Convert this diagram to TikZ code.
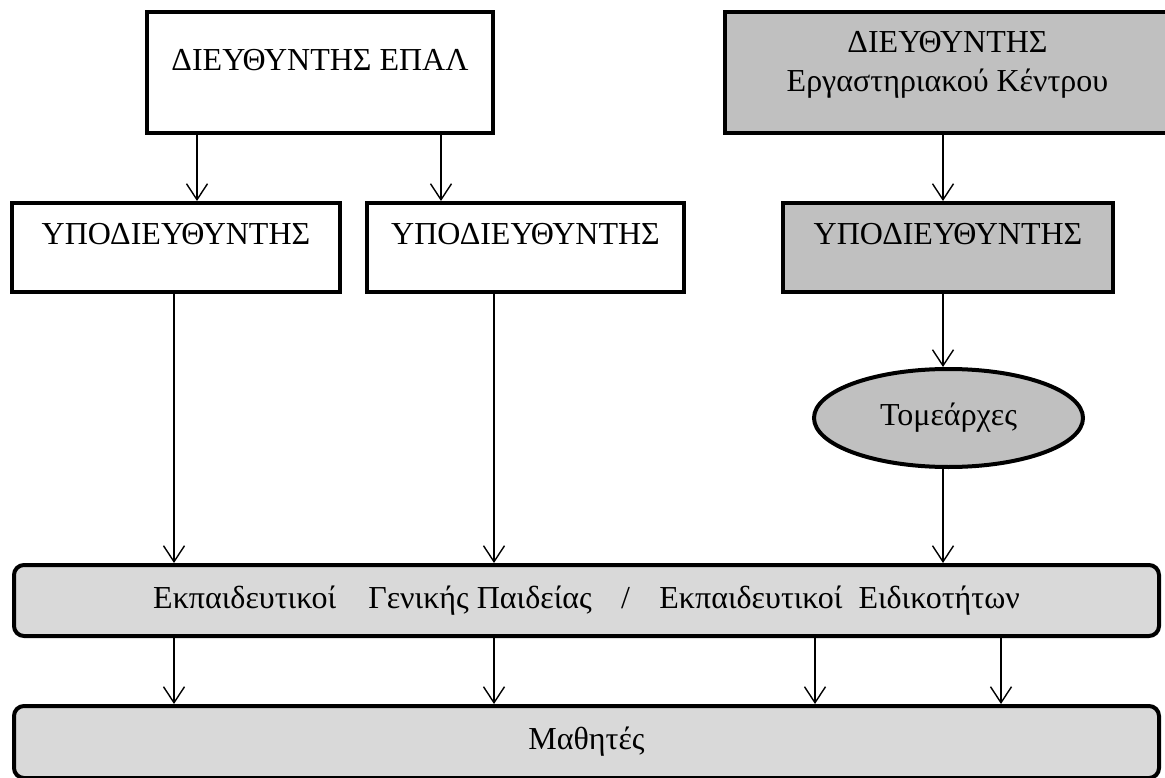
\documentclass[tikz,border=0pt]{standalone}
\usepackage{fontspec}
\setmainfont{Liberation Serif}
\usetikzlibrary{arrows.meta, shapes.geometric}

\begin{document}
\begin{tikzpicture}[x=1pt, y=-1pt,
	font=\fontsize{32}{39}\selectfont,
	box/.style={draw, line width=4pt, minimum width=#1, minimum height=121pt, inner sep=0pt},
	subbox/.style={draw, line width=4pt, minimum width=#1, minimum height=89pt, inner sep=0pt, text height=21pt, text depth=28pt},
	wide/.style={draw, line width=4pt, rounded corners=10pt, fill=lightgray, minimum width=1145pt, minimum height=#1, inner sep=0pt},
	arr/.style={line width=1.4pt, -{Straight Barb[length=16pt, width=21pt, line width=1.4pt]}}]
	\definecolor{midgray}{HTML}{C0C0C0}
	\colorlet{lightgray}{black!15}
	\useasboundingbox (0,0) rectangle (1165,778);
	\clip (0,0) rectangle (1165,778);
		\node[box=346pt, text height=21pt, text depth=25pt] (dir) at (320,72.5) {ΔΙΕΥΘΥΝΤΗΣ ΕΠΑΛ};
		\node[box=445pt, fill=midgray, align=center, text depth=22pt] (dirlab) at (947.5,72.5) {ΔΙΕΥΘΥΝΤΗΣ\\Εργαστηριακού Κέντρου};
		\node[subbox=328pt] (vdir1) at (176,247.5) {ΥΠΟΔΙΕΥΘΥΝΤΗΣ};
		\node[subbox=317pt] (vdir2) at (525.5,247.5) {ΥΠΟΔΙΕΥΘΥΝΤΗΣ};
		\node[subbox=330pt, fill=midgray] (vdirlab) at (948,247.5) {ΥΠΟΔΙΕΥΘΥΝΤΗΣ};
		\node[ellipse, draw, line width=4pt, fill=midgray, minimum width=269pt, minimum height=98pt, inner sep=0pt] (tom) at (948.5,418) {Τομεάρχες};
		\node[wide=71pt] (teach) at (586.5,600.5) {Εκπαιδευτικοί\enspace\ \ Γενικής Παιδείας \enspace\,/\enspace\, Εκπαιδευτικοί\ \ Ειδικοτήτων};
		\node[wide=72pt] (stud) at (586.5,742) {Μαθητές};
		\foreach \n/\x in {a1/197, a2/441, b/943, c1/174, c2/494, t3/815, t4/1001}
			\coordinate (x\n) at (\x,0);
		\draw[arr] (dir.south -| xa1) -- (vdir1.north -| xa1);
		\draw[arr] (dir.south -| xa2) -- (vdir2.north -| xa2);
		\draw[arr] (dirlab.south -| xb) -- (vdirlab.north -| xb);
		\draw[arr] (vdirlab.south -| xb) -- (tom.north -| xb);
		\draw[arr] (vdir1.south -| xc1) -- (teach.north -| xc1);
		\draw[arr] (vdir2.south -| xc2) -- (teach.north -| xc2);
		\draw[arr] (tom.south -| xb) -- (teach.north -| xb);
		\foreach \c in {xc1, xc2, xt3, xt4}
			\draw[arr] (teach.south -| \c) -- (stud.north -| \c);
\end{tikzpicture}
\end{document}
